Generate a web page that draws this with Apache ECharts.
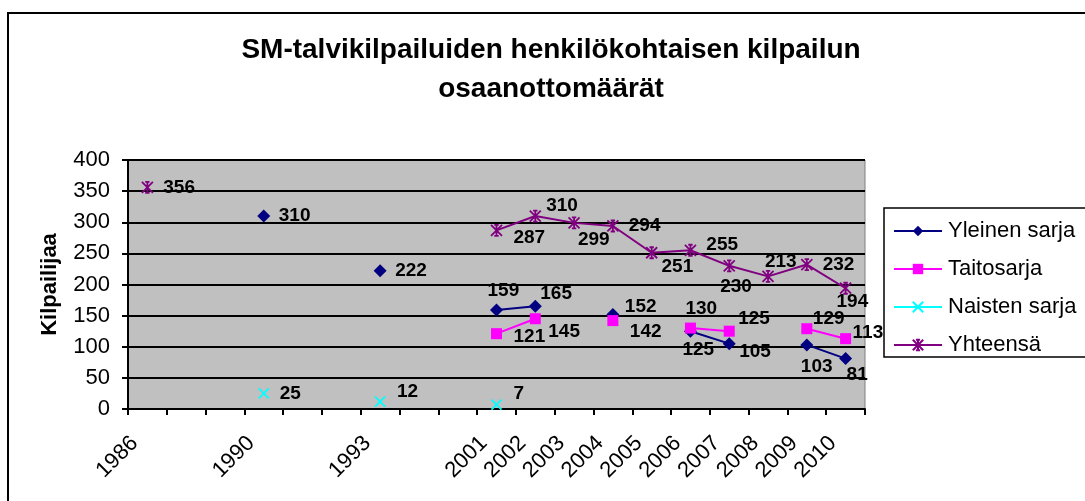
<!DOCTYPE html>
<html>
<head>
    <meta charset="UTF-8">
    <title>SM-talvikilpailuiden osaanottomäärät</title>
</head>
<body style="margin: 0;overflow: hidden;background: #fff;width: 1085px;height: 501px">
<div id="chart" style="width: 1085px;height: 501px"></div>

<script type="text/javascript" src="https://cdn.jsdelivr.net/npm/echarts@6/dist/echarts.min.js"></script>
<script type="text/javascript">
    // categories (blank slots keep the gaps between the early years)
    var categories = ['1986', '', '', '1990', '', '', '1993', '', '', '2001', '2002', '2003', '2004', '2005', '2006', '2007', '2008', '2009', '2010'];
    var yleinen = [null, null, null, 310, null, null, 222, null, null, 159, 165, null, 152, null, 125, 105, null, 103, 81];
    var taitosarja = [null, null, null, null, null, null, null, null, null, 121, 145, null, 142, null, 130, 125, null, 129, 113];
    var naisten = [null, null, null, 25, null, null, 12, null, null, 7, null, null, null, null, null, null, null, null, null];
    var yhteensa = [356, null, null, null, null, null, null, null, null, 287, 310, 299, 294, 251, 255, 230, 213, 232, 194];
    var yTicks = [0, 50, 100, 150, 200, 250, 300, 350, 400];

    var font = 'Arial, "Liberation Sans", sans-serif';

    // where each value label sits, measured from the point (left edge, middle)
    var labelNudge = {
        'Yleinen sarja': {9: [-9, -19], 10: [5, -13], 12: [12, -8], 14: [-8, 19], 15: [10, 8], 17: [-6, 22], 18: [1, 16]},
        'Taitosarja': {9: [17, 3], 10: [13, 13], 12: [17, 11], 14: [-5, -19], 15: [9, -12], 17: [6, -10], 18: [7, -6]},
        'Naisten sarja': {6: [16, -10], 9: [16, -11]},
        'Yhteensä': {9: [16, 7], 10: [10, -10], 11: [3, 17], 13: [9, 14], 14: [15, -5], 15: [-10, 21], 16: [-4, -15], 18: [-10, 14]}
    };

    function withLabels(name, values, half) {
        return values.map(function (v, i) {
            if (v === null) return null;
            var n = (labelNudge[name] && labelNudge[name][i]) || [15, 0];
            return {value: v, label: {offset: [n[0] - half, n[1]]}};
        });
    }

    function makeSeries(name, values, color, symbol, size, hollow) {
        return {
            name: name,
            type: 'line',
            data: withLabels(name, values, size / 2),
            symbol: symbol,
            symbolSize: size,
            showAllSymbol: true,
            connectNulls: false,
            lineStyle: {color: color, width: 2},
            itemStyle: hollow ? {color: 'rgba(0,0,0,0)', borderColor: color, borderWidth: 1.8}
                : {color: color, borderWidth: 0},
            label: {
                show: true,
                position: 'right',
                distance: 0,
                color: '#000',
                fontFamily: font,
                fontWeight: 'bold',
                fontSize: 19
            },
            emphasis: {disabled: true}
        };
    }

    var chart = echarts.init(document.getElementById('chart'));
    var option = {
        animation: false,
        backgroundColor: '#fff',
        graphic: [{
            type: 'rect',
            shape: {x: 8, y: 13, width: 2000, height: 2000},
            style: {fill: 'none', stroke: '#000', lineWidth: 2},
            silent: true
        }, {
            type: 'text',
            style: {
                text: 'SM-talvikilpailuiden henkilökohtaisen kilpailun\nosaanottomäärät',
                x: 551, y: 31,
                align: 'center',
                verticalAlign: 'top',
                font: 'bold 28px ' + font,
                lineHeight: 39,
                fill: '#000'
            }
        }, {
            type: 'rect',
            shape: {x: 884, y: 208, width: 400, height: 149},
            style: {fill: '#fff', stroke: '#000', lineWidth: 1.5},
            z: -1,
            silent: true
        }],
        legend: {
            orient: 'vertical',
            left: 893,
            top: 220,
            itemWidth: 48,
            itemHeight: 13,
            itemGap: 16,
            padding: 0,
            textStyle: {fontFamily: font, fontSize: 22, color: '#000', lineHeight: 22, padding: [0, 0, 0, 1]},
            data: ['Yleinen sarja', 'Taitosarja', 'Naisten sarja', 'Yhteensä']
        },
        grid: {
            left: 128,
            right: 220,
            top: 160,
            bottom: 92,
            show: true,
            backgroundColor: '#C0C0C0',
            borderColor: '#808080',
            borderWidth: 1
        },
        xAxis: {
            type: 'category',
            data: categories,
            boundaryGap: true,
            axisLine: {lineStyle: {color: '#000', width: 2}},
            axisTick: {show: true, interval: 0, length: 6, lineStyle: {color: '#000', width: 2}},
            axisLabel: {
                interval: 0,
                rotate: 45,
                margin: 18,
                padding: [0, 18, 0, 0],
                color: '#000',
                fontFamily: font,
                fontSize: 22
            },
            splitLine: {show: false}
        },
        yAxis: {
            type: 'value',
            min: yTicks[0],
            max: yTicks[yTicks.length - 1],
            interval: 50,
            name: 'Kilpailijaa',
            nameLocation: 'middle',
            nameRotate: 90,
            nameGap: 67,
            nameTextStyle: {fontFamily: font, fontWeight: 'bold', fontSize: 22, color: '#000'},
            axisLine: {show: true, lineStyle: {color: '#000', width: 2}},
            axisTick: {show: true, length: 6, lineStyle: {color: '#000', width: 2}},
            axisLabel: {color: '#000', fontFamily: font, fontSize: 22, margin: 18},
            splitLine: {lineStyle: {color: '#000', width: 2}}
        },
        series: [
            makeSeries('Yleinen sarja', yleinen, '#000080', 'path://M5,0L10,5L5,10L0,5Z', 13, false),
            makeSeries('Taitosarja', taitosarja, '#FF00FF', 'rect', 11, false),
            makeSeries('Naisten sarja', naisten, '#00FFFF', 'path://M0,0L10,10M10,0L0,10', 10, true),
            makeSeries('Yhteensä', yhteensa, '#800080', 'path://M0,0L10,10M10,0L0,10M5,0L5,10M3,0L7,0M3,10L7,10', 11, true)
        ]
    };
    chart.setOption(option);
</script>
</body>
</html>
